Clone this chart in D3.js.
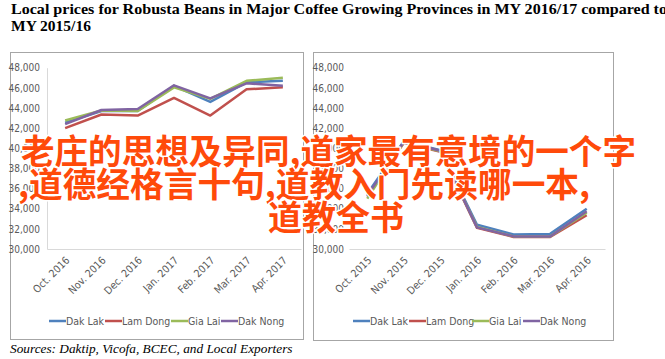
<!DOCTYPE html>
<html><head><meta charset="utf-8">
<script src="https://cdn.jsdelivr.net/npm/d3@7"></script>
<style>
html,body{margin:0;padding:0;background:#fff;}
svg{display:block;}
</style></head>
<body>
<svg id="c" width="665" height="359"></svg>
<script>
// ---- data ----
const seriesNames = ["Dak Lak", "Lam Dong", "Gia Lai", "Dak Nong"];
const seriesColors = ["#4F81BD", "#C0504D", "#9BBB59", "#8064A2"];
const months1617 = ["Oct. 2016","Nov. 2016","Dec. 2016","Jan. 2017","Feb. 2017","Mar. 2017","Apr. 2017"];
const months1516 = ["Oct. 2015","Nov. 2015","Dec. 2015","Jan. 2016","Feb. 2016","Mar. 2016","Apr. 2016"];
const yTicks = [30000,32000,34000,36000,38000,40000,42000,44000,46000,48000];
// MY 2016/17
const dakLak1617  = [42550, 43700, 43700, 46200, 44600, 46550, 46700];
const lamDong1617 = [42000, 43350, 43250, 45000, 43250, 45850, 46050];
const giaLai1617  = [42750, 43750, 43700, 46050, 44900, 46700, 47000];
const dakNong1617 = [42400, 43800, 43900, 46250, 44950, 46450, 46200];
// MY 2015/16
const dakLak1516  = [35500, 40700, 39800, 32400, 31450, 31500, 34000];
const lamDong1516 = [35200, 40550, 39650, 32100, 31200, 31200, 33350];
const giaLai1516  = [35000, 40600, 39700, 32200, 31250, 31250, 33600];
const dakNong1516 = [35300, 40650, 39750, 32150, 31250, 31250, 33750];

const titleLines = ["Local prices for Robusta Beans in Major Coffee Growing Provinces in MY 2016/17 compared to", "MY 2015/16"];
const sourceText = "Sources: Daktip, Vicofa, BCEC, and Local Exporters";
const overlayLines = ["老庄的思想及异同,道家最有意境的一个字", ",道德经格言十句,道教入门先读哪一本,", "道教全书"];

const svg = d3.select("#c");
const narrow = "'Liberation Sans Narrow','DejaVu Sans Condensed',sans-serif";

// title
svg.append("text").attr("x", 11).attr("y", 14)
  .attr("font-family", "'Liberation Serif','Times New Roman',serif").attr("font-weight", "bold")
  .attr("font-size", 15.5).attr("textLength", 656).attr("lengthAdjust", "spacingAndGlyphs")
  .attr("fill", "#000").text(titleLines[0]);
svg.append("text").attr("x", 11).attr("y", 31)
  .attr("font-family", "'Liberation Serif','Times New Roman',serif").attr("font-weight", "bold")
  .attr("font-size", 15.5).attr("fill", "#000").text(titleLines[1]);

function panel(cfg) {
  const g = svg.append("g");
  g.append("rect").attr("x", cfg.box[0] + 0.5).attr("y", cfg.box[1] + 0.5)
    .attr("width", cfg.box[2]).attr("height", cfg.box[3])
    .attr("fill", "#fff").attr("stroke", "#a6a6a6").attr("stroke-width", 1);

  const x = d3.scaleBand().domain(cfg.cats).range([cfg.plot[0], cfg.plot[1]]);
  const y = d3.scaleLinear().domain([30000, 48000]).range([cfg.plot[3], cfg.plot[2]]);

  // y axis
  const ya = g.append("g").attr("transform", `translate(${cfg.plot[0]},0)`)
    .call(d3.axisLeft(y).tickValues(yTicks).tickFormat(d3.format(",")).tickSize(0).tickPadding(cfg.yPad));
  ya.select(".domain").attr("stroke", cfg.showVAxis ? "#d9d9d9" : "none");
  ya.selectAll("text").attr("font-family", narrow).attr("font-size", 10).attr("fill", "#595959");

  // x axis baseline + labels
  const xa = g.append("g").attr("transform", `translate(0,${cfg.plot[3]})`)
    .call(d3.axisBottom(x).tickSize(0).tickPadding(0));
  xa.select(".domain").attr("stroke", "#d9d9d9");
  xa.selectAll("text")
    .attr("font-family", narrow).attr("font-size", 10.5).attr("fill", "#595959")
    .attr("text-anchor", "end").attr("dy", null).attr("y", 0)
    .attr("transform", "translate(5,12) rotate(-45)");

  const line = d3.line().x((d, i) => x(cfg.cats[i]) + x.bandwidth() / 2).y(d => y(d));
  cfg.series.forEach((s, k) => {
    g.append("path").datum(s).attr("d", line).attr("fill", "none")
      .attr("stroke", seriesColors[k]).attr("stroke-width", 2.5).attr("stroke-linejoin", "round");
  });

  // legend
  seriesNames.forEach((n, k) => {
    const lx = cfg.legendX[k];
    g.append("line").attr("x1", lx).attr("x2", lx + 17).attr("y1", cfg.legendY).attr("y2", cfg.legendY)
      .attr("stroke", seriesColors[k]).attr("stroke-width", 2.5);
    g.append("text").attr("x", lx + 17).attr("y", cfg.legendY + 3.5)
      .attr("font-family", narrow).attr("font-size", 10.5).attr("fill", "#595959").text(n);
  });
}

panel({
  box: [10, 52, 293, 287], plot: [47, 301, 67.7, 249], cats: months1617, yPad: 7, showVAxis: true,
  series: [dakLak1617, lamDong1617, giaLai1617, dakNong1617],
  legendX: [49, 105, 171, 221], legendY: 321
});
panel({
  box: [313, 52, 300, 288], plot: [349, 605, 67.7, 249], cats: months1516, yPad: 5, showVAxis: false,
  series: [dakLak1516, lamDong1516, giaLai1516, dakNong1516],
  legendX: [353, 409, 472, 523], legendY: 321
});

// source
svg.append("text").attr("x", 10).attr("y", 353)
  .attr("font-family", "'Liberation Serif','Times New Roman',serif").attr("font-style", "italic")
  .attr("font-size", 13.3).attr("fill", "#000").text(sourceText);

// overlay text
const ovX = [21, 18, 268], ovY = [164, 197, 230], ovLen = [615, 572, null];
overlayLines.forEach((t, i) => {
  const tx = svg.append("text").attr("x", ovX[i]).attr("y", ovY[i])
    .attr("font-family", "'Noto Sans CJK SC',sans-serif").attr("font-weight", "bold")
    .attr("font-size", 34).attr("fill", "#ff4a0a")
    .attr("stroke", "#fff").attr("stroke-width", 3).attr("paint-order", "stroke")
    .attr("stroke-linejoin", "round").text(t);
  if (ovLen[i]) tx.attr("textLength", ovLen[i]).attr("lengthAdjust", "spacingAndGlyphs");
});
</script>
</body></html>
